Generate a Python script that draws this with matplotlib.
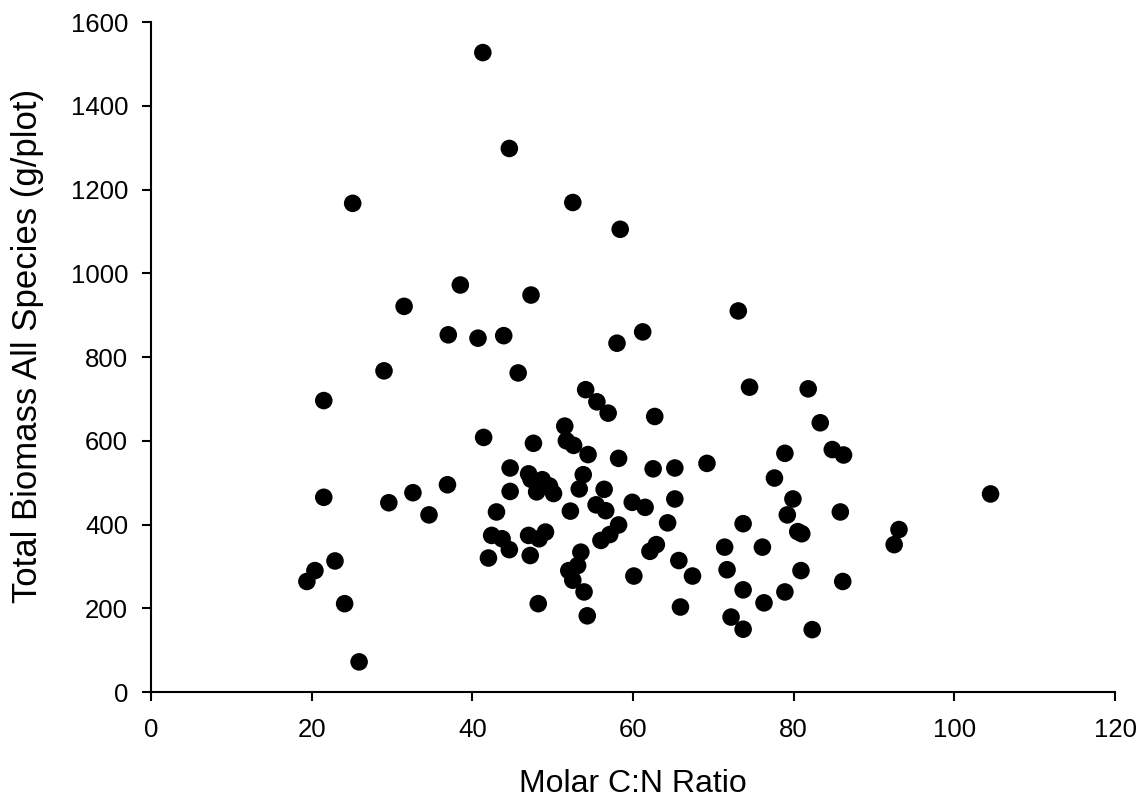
import matplotlib
matplotlib.use("Agg")
import matplotlib.pyplot as plt

# Molar C:N ratio vs total biomass, one point per plot
cn_ratio = [
    19.4, 20.4, 21.5, 21.5, 22.9, 24.1, 25.1, 25.9, 29.0, 29.6,
    31.5, 32.6, 34.6, 37.0, 36.9, 38.5, 40.7, 41.3, 41.4, 42.0,
    42.4, 43.0, 43.7, 43.9, 44.6, 44.6, 44.7, 44.7, 45.7, 47.0,
    47.3, 47.0, 47.3, 47.2, 47.6, 48.0, 48.2, 48.3, 48.7, 49.1,
    49.6, 50.1, 51.5, 51.7, 52.0, 52.2, 52.5, 52.5, 52.6, 53.1,
    53.3, 53.5, 53.8, 54.1, 53.9, 54.3, 54.4, 55.5, 55.4, 56.0,
    56.4, 56.6, 56.9, 57.1, 58.0, 58.2, 58.4, 58.2, 59.9, 60.1,
    61.2, 61.5, 62.1, 62.5, 62.7, 62.9, 64.3, 65.2, 65.2, 65.7,
    65.9, 67.4, 69.2, 71.4, 71.7, 72.2, 73.1, 73.7, 73.7, 73.7,
    74.5, 76.1, 76.3, 77.6, 78.9, 78.9, 79.2, 79.9, 80.5, 80.9,
    81.0, 81.8, 82.3, 83.3, 84.8, 86.2, 85.8, 86.1, 92.5, 93.1,
    104.5,
]
biomass = [
    264, 290, 696, 465, 313, 211, 1167, 72, 767, 452,
    921, 476, 423, 853, 495, 972, 845, 1527, 608, 320,
    374, 430, 366, 851, 1298, 340, 479, 535, 762, 521,
    948, 374, 508, 326, 594, 478, 211, 366, 507, 382,
    492, 474, 635, 600, 290, 432, 1169, 267, 589, 302,
    485, 334, 519, 722, 239, 182, 567, 693, 447, 362,
    484, 433, 666, 376, 833, 558, 1105, 399, 453, 277,
    860, 441, 336, 533, 658, 352, 404, 535, 461, 314,
    203, 277, 546, 346, 292, 179, 910, 402, 244, 150,
    728, 346, 213, 511, 570, 239, 423, 461, 383, 290,
    378, 724, 149, 643, 579, 566, 430, 264, 352, 388,
    473,
]

plt.rcParams["font.family"] = ["Liberation Sans", "DejaVu Sans"]

fig = plt.figure(figsize=(11.39, 8.06), dpi=100)
ax = fig.add_axes([0.1326, 0.1414, 0.8464, 0.8313])

ax.scatter(cn_ratio, biomass, s=160, color="black", edgecolors="none", zorder=3)

ax.set_xlim(0, 120)
ax.set_ylim(0, 1600)
ax.set_xticks(range(0, 121, 20))
ax.set_yticks(range(0, 1601, 200))

for side in ["top", "right"]:
    ax.spines[side].set_visible(False)
for side in ["left", "bottom"]:
    ax.spines[side].set_linewidth(1.5)
ax.tick_params(direction="out", length=6.5, width=1.5, labelsize=18.5)
ax.tick_params(axis="x", pad=12)
ax.tick_params(axis="y", pad=10)

ax.set_xlabel("Molar C:N Ratio", fontsize=23)
ax.set_ylabel("Total Biomass All Species (g/plot)", fontsize=25)
ax.xaxis.set_label_coords(0.5, -0.115)
ax.yaxis.set_label_coords(-0.111, 0.516)

fig.savefig("out.png", dpi=100)
